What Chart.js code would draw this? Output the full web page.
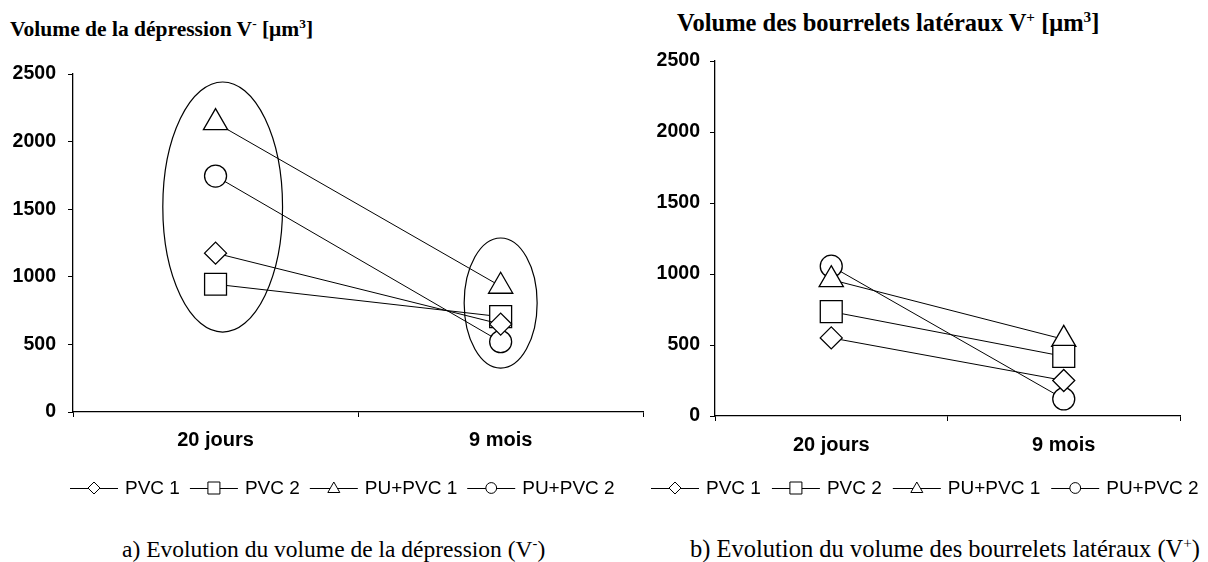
<!DOCTYPE html>
<html>
<head>
<meta charset="utf-8">
<script src="https://cdn.jsdelivr.net/npm/chart.js@4/dist/chart.umd.min.js"></script>
<style>
  body { margin: 0; background: #fff; width: 1208px; height: 562px; position: relative; overflow: hidden; }
  .box { position: absolute; top: 0; height: 562px; }
  .title { position: absolute; font-family: "Liberation Serif", serif; font-weight: bold; color: #000; white-space: nowrap; line-height: 1; }
  .caption { position: absolute; font-family: "Liberation Serif", serif; color: #000; white-space: nowrap; line-height: 1; }
  sup { font-size: 0.62em; line-height: 0; }
</style>
</head>
<body>
<div class="title" style="left:10px; top:19px; font-size:21.5px">Volume de la dépression V<sup>-</sup> [μm<sup>3</sup>]</div>
<div class="title" style="left:677px; top:11px; font-size:24.5px">Volume des bourrelets latéraux V<sup>+</sup> [μm<sup>3</sup>]</div>
<div class="caption" style="left:122px; top:538px; font-size:23.5px">a) Evolution du volume de la dépression (V<sup>-</sup>)</div>
<div class="caption" style="left:690px; top:537px; font-size:24.5px">b) Evolution du volume des bourrelets latéraux (V<sup>+</sup>)</div>

<div class="box" style="left:0; width:660px"><canvas id="chartA"></canvas></div>
<div class="box" style="left:640px; width:568px"><canvas id="chartB"></canvas></div>

<script>
// categories and series
const periods = ['20 jours', '9 mois'];
const seriesNames = ['PVC 1', 'PVC 2', 'PU+PVC 1', 'PU+PVC 2'];

// volume of the depression V- [µm3]
const depPVC1 = [1175, 650];
const depPVC2 = [945, 705];
const depPUPVC1 = [2140, 930];
const depPUPVC2 = [1745, 520];

// volume of the lateral ridges V+ [µm3]
const ridgePVC1 = [550, 250];
const ridgePVC2 = [735, 420];
const ridgePUPVC1 = [960, 540];
const ridgePUPVC2 = [1055, 120];

const yTicks = [0, 500, 1000, 1500, 2000, 2500];

// groups circled on the depression chart (category index, value, half-width in categories, half-height in value)
const groupsA = [
  { x: 0.025, y: 1516, rx: 0.21, ry: 925 },
  { x: 1, y: 806, rx: 0.128, ry: 481 }
];

const styles = [
  { pointStyle: 'rectRot', radius: 11 },
  { pointStyle: 'rect', radius: 15.5 },
  { pointStyle: 'triangle', radius: 14 },
  { pointStyle: 'circle', radius: 11 }
];

function makeDatasets(values) {
  return values.map((v, i) => ({
    label: seriesNames[i],
    data: v,
    borderColor: '#000',
    borderWidth: 1,
    backgroundColor: '#fff',
    pointStyle: styles[i].pointStyle,
    pointRadius: styles[i].radius,
    pointHoverRadius: styles[i].radius,
    pointBorderWidth: 1.3,
    pointBorderColor: '#000',
    pointBackgroundColor: '#fff',
    tension: 0,
    fill: false
  }));
}

// small marker drawer used by the legend
function marker(ctx, style, x, y, r) {
  ctx.beginPath();
  if (style === 'circle') {
    ctx.arc(x, y, r * 0.9, 0, Math.PI * 2);
  } else if (style === 'rect') {
    ctx.rect(x - r, y - r, 2 * r, 2 * r);
  } else if (style === 'rectRot') {
    ctx.moveTo(x - r, y); ctx.lineTo(x, y - r); ctx.lineTo(x + r, y); ctx.lineTo(x, y + r); ctx.closePath();
  } else {
    ctx.moveTo(x, y - r); ctx.lineTo(x + r, y + r * 0.75); ctx.lineTo(x - r, y + r * 0.75); ctx.closePath();
  }
  ctx.fillStyle = '#fff';
  ctx.fill();
  ctx.stroke();
}

const lineLegend = {
  id: 'lineLegend',
  afterDraw(chart, args, opts) {
    const ctx = chart.ctx;
    ctx.save();
    ctx.font = opts.font;
    ctx.textBaseline = 'middle';
    ctx.strokeStyle = '#000';
    ctx.lineWidth = 1;
    let x = opts.x;
    const y = opts.y;
    chart.data.datasets.forEach(ds => {
      ctx.beginPath();
      ctx.moveTo(x, y + 0.5);
      ctx.lineTo(x + opts.symbol, y + 0.5);
      ctx.stroke();
      marker(ctx, ds.pointStyle, x + opts.symbol / 2, y, opts.markerSize);
      x += opts.symbol + opts.gap;
      ctx.fillStyle = '#000';
      ctx.fillText(ds.label, x, y + 1);
      x += ctx.measureText(ds.label).width + opts.spacing;
    });
    ctx.restore();
  }
};

const ellipses = {
  id: 'ellipses',
  beforeDatasetsDraw(chart, args, opts) {
    if (!opts.items) return;
    const xs = chart.scales.x, ys = chart.scales.y;
    const ctx = chart.ctx;
    const step = xs.getPixelForValue(1) - xs.getPixelForValue(0);
    ctx.save();
    ctx.strokeStyle = '#000';
    ctx.lineWidth = 1.2;
    opts.items.forEach(e => {
      const cx = xs.getPixelForValue(e.x);
      const cy = ys.getPixelForValue(e.y);
      const ry = Math.abs(ys.getPixelForValue(e.y + e.ry) - cy);
      ctx.beginPath();
      ctx.ellipse(cx, cy, e.rx * step, ry, 0, 0, Math.PI * 2);
      ctx.stroke();
    });
    ctx.restore();
  }
};

const tickFont = { family: 'Arial, "Liberation Sans"', size: 19.5, weight: 'bold' };

function makeChart(id, values, cfg) {
  return new Chart(document.getElementById(id), {
    type: 'line',
    data: { labels: periods, datasets: makeDatasets(values) },
    plugins: [ellipses, lineLegend],
    options: {
      responsive: true,
      maintainAspectRatio: false,
      animation: false,
      events: [],
      layout: { padding: cfg.padding },
      plugins: {
        legend: { display: false },
        tooltip: { enabled: false },
        title: { display: false },
        ellipses: { items: cfg.ellipses },
        lineLegend: cfg.legend
      },
      scales: {
        x: {
          type: 'category',
          offset: true,
          afterFit: s => { s.height = 40; },
          border: { display: true, color: '#000', width: 1.3 },
          grid: { offset: true, drawOnChartArea: false, drawTicks: true, tickLength: 5, color: '#000' },
          ticks: { color: '#000', font: { family: 'Arial, "Liberation Sans"', size: 20, weight: 'bold' }, padding: cfg.xPad, maxRotation: 0 }
        },
        y: {
          min: 0,
          max: 2500,
          afterFit: s => { s.width = 60; },
          afterBuildTicks: s => { s.ticks = yTicks.map(v => ({ value: v })); },
          border: { display: true, color: '#000', width: 1.3 },
          grid: { drawOnChartArea: false, drawTicks: true, tickLength: 5, color: '#000' },
          ticks: { color: '#000', font: tickFont, padding: cfg.yPad, callback: v => String(v) }
        }
      }
    }
  });
}

makeChart('chartA', [depPVC1, depPVC2, depPUPVC1, depPUPVC2], {
  padding: { left: 13, right: 15, top: 74, bottom: 110 },
  xPad: 11,
  yPad: 12,
  ellipses: groupsA,
  legend: { x: 70, y: 488, symbol: 48, gap: 7, spacing: 10, markerSize: 6, font: '19px Arial, "Liberation Sans"' }
});

makeChart('chartB', [ridgePVC1, ridgePVC2, ridgePUPVC1, ridgePUPVC2], {
  padding: { left: 15, right: 28, top: 61, bottom: 106 },
  xPad: 12,
  yPad: 10,
  ellipses: null,
  legend: { x: 11, y: 488, symbol: 48, gap: 7, spacing: 11, markerSize: 6, font: '19px Arial, "Liberation Sans"' }
});
</script>
</body>
</html>
